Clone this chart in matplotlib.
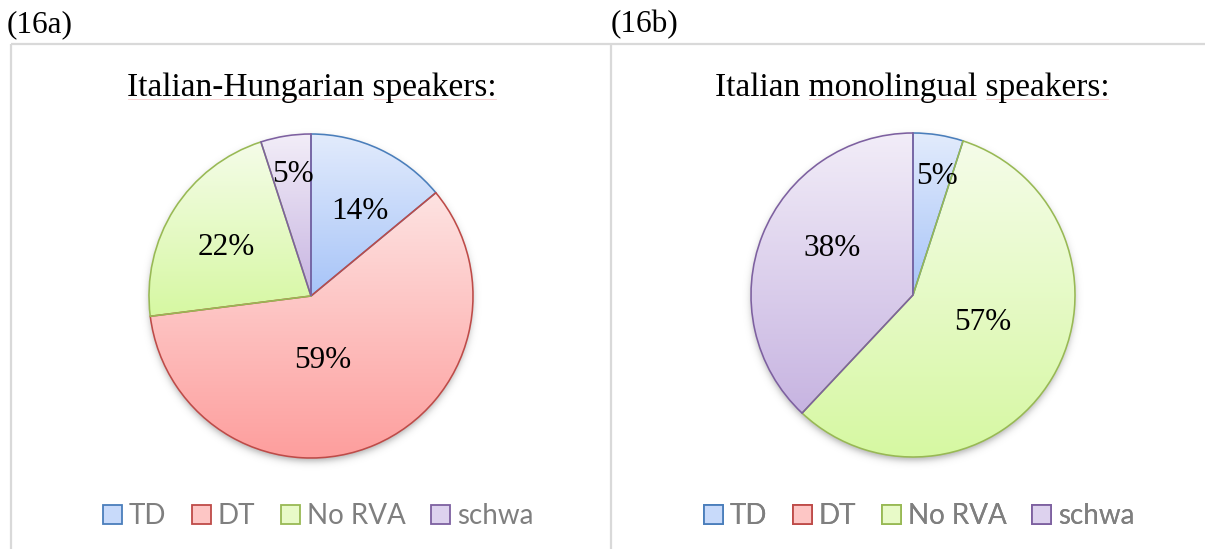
import numpy as np
import matplotlib
matplotlib.use("Agg")
import matplotlib.pyplot as plt
import matplotlib.colors as mcolors
from matplotlib.patches import Patch

# answer categories and shares (%) per speaker group
categories = ["TD", "DT", "No RVA", "schwa"]
bilingual = [14, 59, 22, 5]
monolingual = [5, 0, 57, 38]
panel_tags = ["(16a)", "(16b)"]
titles = ["Italian-Hungarian speakers:", "Italian monolingual speakers:"]
# words flagged by the word processor's spell checker
flagged = [["Italian-Hungarian", "speakers:"], ["monolingual", "speakers:"]]

# outline and gradient colours for each category
edge_colors = ["#4a7ebb", "#be4b48", "#98b954", "#7d60a0"]
top_colors = ["#e2ebfc", "#fde3e2", "#f5fce9", "#f2edf8"]
bottom_colors = ["#a7c4f8", "#fe9e9d", "#d6f8a2", "#c7b4e1"]
legend_fill = ["#c8dafa", "#fdc6c5", "#e8fac8", "#ddd2ee"]

W, H = 1205, 549
SERIF = "Liberation Serif"


def gradient_fill(ax, wedge, c_top, c_bot):
    x0, y0, x1, y1 = wedge.get_path().get_extents(wedge.get_patch_transform()).extents
    t = np.linspace(0, 1, 256)[:, None, None]
    top = np.array(mcolors.to_rgb(c_top))
    bot = np.array(mcolors.to_rgb(c_bot))
    img = top + (bot - top) * t
    im = ax.imshow(img, extent=(x0, x1, y0, y1), origin="upper", aspect="auto",
                   interpolation="bilinear", zorder=2)
    im.set_clip_path(wedge)


def pie_shadow(ax, cx, cy, r):
    pad = 20
    xs = np.arange(cx - r - pad, cx + r + pad + 1)
    ys = np.arange(cy - r - pad, cy + r + pad + 1)
    X, Y = np.meshgrid(xs, ys)
    d = np.hypot(X - cx, Y - (cy - 3.5))
    rgba = np.zeros(X.shape + (4,))
    rgba[..., 3] = 0.33 / (1 + np.exp((d - r) / 2.2))
    ax.imshow(rgba, extent=(xs[0], xs[-1], ys[0], ys[-1]), origin="lower",
              aspect="auto", interpolation="bilinear", zorder=1)


def draw_panel(ax, values, cx, cy, r, label_pos, legend_x):
    idx = [i for i, v in enumerate(values) if v > 0]
    vals = [values[i] for i in idx]
    pie_shadow(ax, cx, cy, r)
    wedges, _ = ax.pie(vals, center=(cx, cy), radius=r, startangle=90,
                       counterclock=False, frame=True)
    for w, i in zip(wedges, idx):
        w.set_facecolor("none")
        w.set_edgecolor(edge_colors[i])
        w.set_linewidth(1.15)
        w.set_zorder(3)
        gradient_fill(ax, w, top_colors[i], bottom_colors[i])
    for i, (dx, dy) in zip(idx, label_pos):
        ax.text(cx + dx * r, cy + dy * r, f"{values[i]}%", ha="center", va="center",
                fontsize=22.5, family=SERIF, color="black", zorder=4)
    handles = [Patch(facecolor=legend_fill[i], edgecolor=edge_colors[i],
                     linewidth=1.3, label=categories[i]) for i in range(4)]
    leg = ax.legend(handles=handles, loc="center", bbox_to_anchor=(legend_x + 2, 33),
                    bbox_transform=ax.transData, ncol=4, frameon=False,
                    prop=dict(family="Lato", size=20), labelcolor="#7f7f7f",
                    handlelength=0.68, handleheight=0.68, handletextpad=0.25,
                    columnspacing=0.92, borderpad=0)
    ax.add_artist(leg)


def title_with_marks(ax, renderer, cx, baseline, title, words):
    kw = dict(fontsize=24, family=SERIF)
    t = ax.text(cx, baseline, title, ha="center", va="baseline", color="black", **kw)
    x0 = t.get_window_extent(renderer).x0
    for word in words:
        pos = title.index(word)

        def width(s):
            tmp = ax.text(0, 0, s, **kw)
            wd = tmp.get_window_extent(renderer).width
            tmp.remove()
            return wd

        end = x0 + width(title[:pos + len(word)])
        start = end - width(word)
        ax.plot([start + 1, end - 1], [baseline - 2.5, baseline - 2.5],
                color="#f9cccc", lw=0.6, zorder=2)


fig = plt.figure(figsize=(W / 100, H / 100), dpi=100)
ax = fig.add_axes([0, 0, 1, 1])

# chart-area borders
frame_kw = dict(color="#d9d9d9", lw=1.6, zorder=0, solid_capstyle="butt")
ax.plot([11, 11], [-5, 505], **frame_kw)
ax.plot([611, 611], [-5, 505], **frame_kw)
ax.plot([11, W + 5], [505, 505], **frame_kw)

ax.text(7, 524, panel_tags[0], ha="left", va="center", fontsize=22.5, family=SERIF)
ax.text(611, 524, panel_tags[1], ha="left", va="center", fontsize=22.5, family=SERIF)

draw_panel(ax, bilingual, 311, 253, 162,
           [(0.30, 0.52), (0.07, -0.40), (-0.52, 0.30), (-0.11, 0.75)], 316)
draw_panel(ax, monolingual, 913, 254, 162,
           [(0.15, 0.73), (0.43, -0.17), (-0.50, 0.29)], 917)

ax.set_xlim(0, W)
ax.set_ylim(0, H)
ax.set_aspect("auto")
ax.axis("off")

renderer = fig.canvas.get_renderer()
title_with_marks(ax, renderer, 312, 453, titles[0], flagged[0])
title_with_marks(ax, renderer, 912, 453, titles[1], flagged[1])

fig.savefig("out.png", dpi=100, facecolor="white")
